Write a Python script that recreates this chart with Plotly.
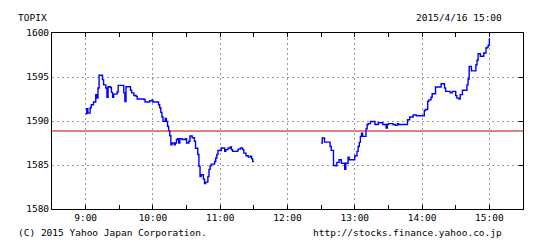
import plotly.graph_objects as go

# ---- data ----
am_times = ["09:00","09:01","09:02","09:04","09:05","09:07","09:09","09:10","09:11","09:12","09:14","09:15",
            "09:16","09:18","09:19","09:20","09:22","09:23","09:24","09:25","09:28","09:29","09:33","09:34",
            "09:35","09:36","09:39","09:40","09:41","09:43","09:45","09:46","09:52","09:53","09:56","09:57",
            "09:59","10:00","10:04","10:05","10:06","10:07","10:08","10:09","10:11","10:12","10:13","10:14",
            "10:15","10:16","10:17","10:19","10:20","10:21","10:22","10:23","10:24","10:26","10:29","10:30",
            "10:32","10:33","10:35","10:37","10:38","10:40","10:41","10:42","10:43","10:44","10:45","10:46",
            "10:47","10:49","10:50","10:51","10:52","10:55","10:56","10:57","10:58","11:01","11:02","11:04",
            "11:05","11:07","11:09","11:10","11:11","11:15","11:16","11:18","11:20","11:21","11:23","11:25",
            "11:27","11:28","11:29","11:30"]
am_values = [1590.83,1591.4,1590.9,1591.5,1591.85,1592.16,1593.0,1592.6,1593.75,1595.2,1595.2,1594.7,
             1594.1,1593.75,1592.7,1593.9,1593.8,1593.25,1592.7,1593.05,1593.3,1594.05,1594.05,1593.2,
             1592.2,1593.9,1593.9,1593.5,1593.2,1592.9,1592.8,1592.5,1592.45,1592.16,1592.16,1592.3,
             1592.35,1592.16,1592.16,1591.85,1591.5,1590.98,1590.45,1589.96,1590.3,1589.96,1589.4,1588.9,
             1588.33,1587.3,1587.5,1587.3,1587.5,1587.9,1588.0,1587.5,1588.0,1587.9,1588.0,1587.5,
             1587.7,1588.3,1588.1,1587.7,1586.9,1586.2,1584.85,1583.7,1583.9,1583.9,1583.4,1582.9,
             1583.05,1583.7,1584.5,1584.9,1585.1,1585.4,1585.8,1586.2,1586.65,1586.93,1586.93,1586.55,
             1586.75,1586.93,1587.05,1586.75,1586.55,1586.6,1586.8,1586.93,1586.75,1586.35,1586.05,1585.9,
             1586.0,1585.7,1585.4,1585.4]

pm_times = ["12:30","12:31","12:33","12:37","12:38","12:39","12:41","12:43","12:44","12:46","12:48","12:51",
            "12:52","12:54","12:55","12:59","13:00","13:02","13:03","13:04","13:05","13:06","13:07","13:10",
            "13:11","13:12","13:14","13:17","13:18","13:21","13:25","13:28","13:29","13:30","13:34","13:36",
            "13:38","13:39","13:46","13:47","13:49","13:52","13:55","13:59","14:02","14:03","14:05","14:06",
            "14:08","14:09","14:12","14:15","14:17","14:19","14:20","14:21","14:25","14:27","14:30","14:31",
            "14:33","14:34","14:36","14:38","14:40","14:41","14:42","14:44","14:48","14:49","14:50","14:52",
            "14:55","14:57","14:58","14:59","15:00"]
pm_values = [1587.5,1588.07,1587.6,1587.6,1587.1,1586.66,1584.95,1584.9,1585.3,1585.6,1585.2,1584.5,
             1585.2,1585.9,1585.6,1585.6,1586.05,1586.55,1587.1,1587.57,1588.25,1588.6,1588.25,1589.1,
             1589.6,1589.7,1589.95,1589.95,1589.6,1589.8,1589.6,1589.2,1589.6,1589.7,1589.6,1589.5,
             1589.7,1589.6,1589.6,1590.15,1590.45,1590.68,1590.6,1590.6,1591.2,1591.3,1592.23,1592.4,
             1592.7,1593.1,1593.86,1593.86,1594.24,1594.24,1593.75,1593.37,1593.2,1593.37,1592.88,1592.6,
             1592.5,1593.0,1593.5,1593.5,1594.1,1594.77,1596.2,1595.7,1596.4,1596.9,1597.65,1597.35,
             1597.73,1598.3,1598.4,1598.6,1599.4]

prev_close = 1588.86
y_ticks = [1580, 1585, 1590, 1595, 1600]
x_ticks = ["09:00", "10:00", "11:00", "12:00", "13:00", "14:00", "15:00"]
title_left = "TOPIX"
title_right = "2015/4/16 15:00"
footer_left = "(C) 2015 Yahoo Japan Corporation."
footer_right = "http://stocks.finance.yahoo.co.jp"

DAY = "2015-04-16 "
def ts(t):
    return DAY + t + ":00"

x = [ts(t) for t in am_times] + [None] + [ts(t) for t in pm_times]
y = am_values + [None] + pm_values

W, H = 541, 247
L, R, T, B = 52, 18, 33, 38
FONT = "DejaVu Sans Mono"
FS = 9.5

fig = go.Figure()
fig.add_trace(go.Scatter(x=x, y=y, mode="lines", line=dict(color="#0000ff", width=1.4, shape="hv"),
                         connectgaps=False, hoverinfo="skip", showlegend=False))
# invisible helper trace for the mirrored tick axes
fig.add_trace(go.Scatter(x=[ts("09:00")], y=[1590], xaxis="x2", yaxis="y2", mode="markers",
                         marker=dict(opacity=0), showlegend=False, hoverinfo="skip"))

grid = dict(showgrid=True, gridcolor="#999999", gridwidth=1, griddash="2px,3px")
xr = [ts("08:30"), ts("15:30")]
fig.update_layout(
    width=W, height=H, margin=dict(l=L, r=R, t=T, b=B, pad=0),
    paper_bgcolor="white", plot_bgcolor="white",
    font=dict(family=FONT, size=FS, color="black"),
    xaxis=dict(type="date", range=xr, tickvals=[ts(t) for t in x_ticks],
               ticktext=[t.lstrip("0") for t in x_ticks], ticks="inside", ticklen=4, tickcolor="black",
               showline=True, linecolor="black", linewidth=1, mirror=True, zeroline=False,
               minor=dict(dtick=30 * 60 * 1000, tick0=ts("08:30"), ticks="inside", ticklen=4,
                          tickcolor="black", showgrid=False),
               **grid),
    xaxis2=dict(type="date", range=xr, overlaying="x", side="top", anchor="y", showticklabels=False,
                tickvals=[ts(t) for t in x_ticks], ticks="inside", ticklen=4, tickcolor="black",
                minor=dict(dtick=30 * 60 * 1000, tick0=ts("08:30"), ticks="inside", ticklen=4,
                           tickcolor="black", showgrid=False),
                showgrid=False, showline=False, zeroline=False),
    yaxis=dict(range=[1580, 1600], tickvals=y_ticks, ticks="", showline=True, linecolor="black",
               linewidth=1, mirror=True, zeroline=False, **grid),
    yaxis2=dict(range=[1580, 1600], overlaying="y", side="right", anchor="x", tickvals=y_ticks[1:-1],
                ticks="inside", ticklen=4, tickcolor="black", showticklabels=False, showgrid=False,
                showline=False, zeroline=False),
    showlegend=False,
)
fig.add_shape(type="line", xref="paper", yref="y", x0=0, x1=1, y0=prev_close, y1=prev_close,
              line=dict(color="#c00000", width=1))

pw, ph = W - L - R, H - T - B
def px(xp):
    return (xp - L) / pw
def py(yp):
    return (H - B - yp) / ph

fig.add_annotation(text=title_left, xref="paper", yref="paper", x=px(16), y=py(17),
                   xanchor="left", yanchor="middle", showarrow=False)
fig.add_annotation(text=title_right, xref="paper", yref="paper", x=px(504), y=py(17),
                   xanchor="right", yanchor="middle", showarrow=False)
fig.add_annotation(text=footer_left, xref="paper", yref="paper", x=px(16), y=py(233),
                   xanchor="left", yanchor="middle", showarrow=False)
fig.add_annotation(text=footer_right, xref="paper", yref="paper", x=px(504), y=py(233),
                   xanchor="right", yanchor="middle", showarrow=False)

fig.write_html("out.html")
